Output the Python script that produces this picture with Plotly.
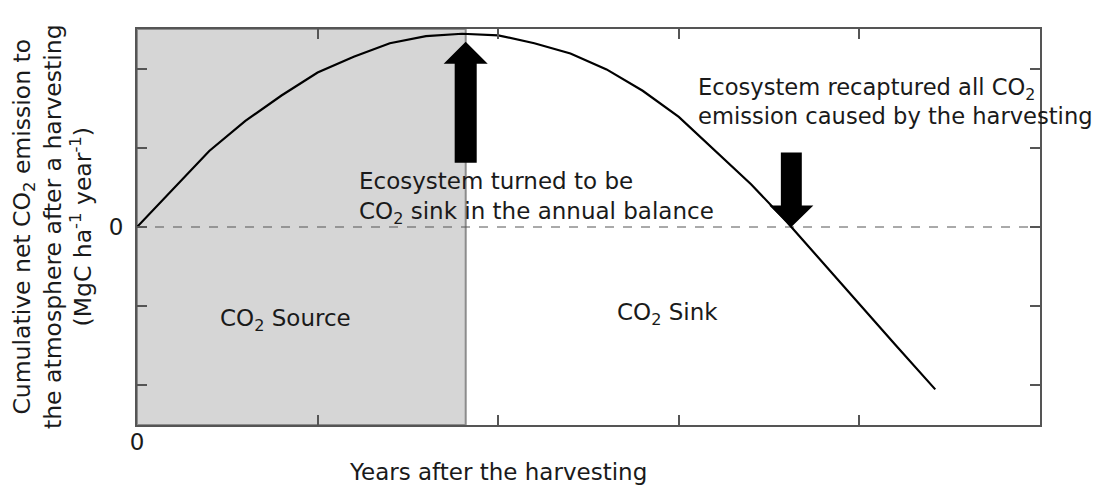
import numpy as np
import plotly.graph_objects as go

# ---- data ----
years = [0, 2, 4, 6, 8, 10, 12, 14, 16, 18, 20, 22, 24, 26, 28, 30, 32, 34, 36, 38, 40, 42, 44.2]
cum_emission = [0, 0.48, 0.96, 1.34, 1.66, 1.95, 2.15, 2.32, 2.41, 2.44, 2.42, 2.32, 2.19,
                1.99, 1.72, 1.39, 0.97, 0.54, 0.06, -0.46, -0.97, -1.49, -2.05]
source_end = 18.2          # end of CO2 source period
x_label_ticks = [0]
x_label_text = ["0"]
x_other_ticks = [10, 20, 30, 40, 50]
y_label_ticks = [0]
y_label_text = ["0"]
y_other_ticks = [-2, -1, 1, 2]
x_range = [0, 50]
y_range = [-2.5, 2.5]

# zero crossing (sink balance recovered)
yv = np.array(cum_emission); xv = np.array(years)
i = np.where((yv[:-1] > 0) & (yv[1:] <= 0))[0][0]
x_zero = xv[i] + (0 - yv[i]) * (xv[i + 1] - xv[i]) / (yv[i + 1] - yv[i])

FONT = "DejaVu Sans"
FS = 23
TXT = "#1a1a1a"
AX = "#555555"

fig = go.Figure()
fig.add_trace(go.Scatter(x=years, y=cum_emission, mode="lines",
                         line=dict(color="black", width=2.2), showlegend=False,
                         hoverinfo="skip"))


def arrow_path(xc, y_from, y_head, y_tip, sw, hw):
    return (f"M {xc-sw},{y_from} L {xc-sw},{y_head} L {xc-hw},{y_head} L {xc},{y_tip} "
            f"L {xc+hw},{y_head} L {xc+sw},{y_head} L {xc+sw},{y_from} Z")


shapes = [
    dict(type="rect", xref="x", yref="y", x0=x_range[0], x1=source_end,
         y0=y_range[0], y1=y_range[1], fillcolor="#d6d6d6",
         line=dict(color="#8c8c8c", width=2), layer="below"),
    dict(type="line", xref="x", yref="y", x0=x_range[0], x1=x_range[1], y0=0, y1=0,
         line=dict(color=AX, width=1, dash="dash"), layer="below"),
    dict(type="path", xref="x", yref="y",
         path=arrow_path(source_end, 0.81, 2.06, 2.34, 0.61, 1.22),
         fillcolor="black", line=dict(color="black", width=0)),
    dict(type="path", xref="x", yref="y",
         path=arrow_path(x_zero, 0.94, 0.27, 0.0, 0.58, 1.22),
         fillcolor="black", line=dict(color="black", width=0)),
]

annotations = [
    dict(x=12.2, y=0.37, xref="x", yref="y", xanchor="left", yanchor="middle",
         align="left", showarrow=False,
         text="Ecosystem turned to be<br>CO<sub>2</sub> sink in the annual balance"),
    dict(x=30.95, y=1.58, xref="x", yref="y", xanchor="left", yanchor="middle",
         align="left", showarrow=False, font=dict(size=22.6),
         text="Ecosystem recaptured all CO<sub>2</sub><br>emission caused by the harvesting"),
    dict(x=8.2, y=-1.17, xref="x", yref="y", xanchor="center", yanchor="middle",
         showarrow=False, text="CO<sub>2</sub> Source"),
    dict(x=29.4, y=-1.1, xref="x", yref="y", xanchor="center", yanchor="middle",
         showarrow=False, text="CO<sub>2</sub> Sink"),
    dict(x=20, y=-0.119, xref="x", yref="paper", xanchor="center", yanchor="middle",
         showarrow=False, text="Years after the harvesting"),
    dict(x=(52 - 137) / 903, y=0.5, xref="paper", yref="paper", xanchor="center",
         yanchor="middle", textangle=-90, showarrow=False, font=dict(size=23.5),
         text="Cumulative net CO<sub>2</sub> emission to<br>the atmosphere after a harvesting"
              "<br>(MgC ha<sup>-1</sup> year<sup>-1</sup>)"),
]

tick_style = dict(ticks="inside", ticklen=10, tickwidth=1.5, tickcolor=AX)

fig.update_layout(
    width=1099, height=482,
    margin=dict(l=129, r=67, t=21, b=65),
    paper_bgcolor="white", plot_bgcolor="white",
    font=dict(family=FONT, size=FS, color=TXT),
    shapes=shapes, annotations=annotations, showlegend=False,
    xaxis=dict(range=x_range, tickvals=x_label_ticks, ticktext=x_label_text,
               minor=dict(tickvals=x_other_ticks, **tick_style), **tick_style,
               showline=True, linecolor=AX, linewidth=2, mirror="ticks",
               showgrid=False, zeroline=False, ticklabelstandoff=-5,
               tickfont=dict(size=FS, color=TXT)),
    yaxis=dict(range=y_range, tickvals=y_label_ticks, ticktext=y_label_text,
               minor=dict(tickvals=y_other_ticks, **tick_style), **tick_style,
               showline=True, linecolor=AX, linewidth=2, mirror="ticks",
               showgrid=False, zeroline=False, ticklabelstandoff=7,
               tickfont=dict(size=FS, color=TXT)),
)

fig.write_html("out.html")
